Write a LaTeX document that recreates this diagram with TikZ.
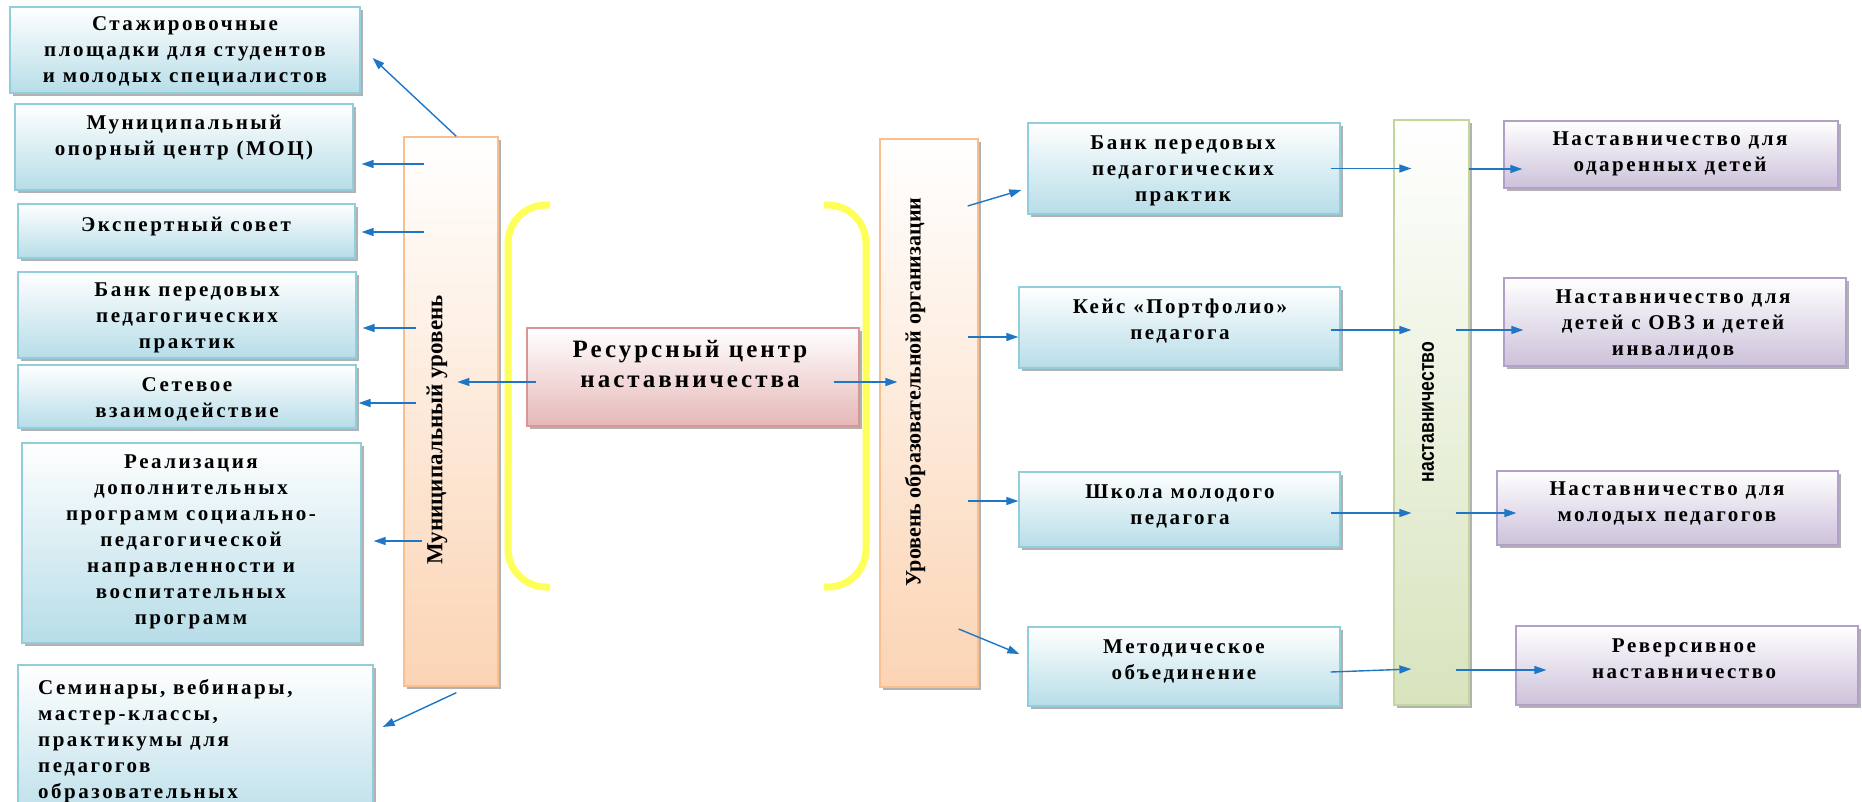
\documentclass[tikz,border=0pt]{standalone}
\usepackage{fontspec}
\setmainfont{Liberation Serif}
\newfontfamily\spcfont{Liberation Serif}[LetterSpace=12]
\newfontfamily\colsans{Liberation Sans}
\usetikzlibrary{shadows,arrows.meta,calc}
\definecolor{bluefill}{RGB}{183,221,232}
\definecolor{blueline}{RGB}{146,205,220}
\definecolor{orfill}{RGB}{251,212,180}
\definecolor{orline}{RGB}{250,191,143}
\definecolor{pkfill}{RGB}{229,184,183}
\definecolor{pkline}{RGB}{217,150,148}
\definecolor{grfill}{RGB}{215,228,189}
\definecolor{grline}{RGB}{195,214,155}
\definecolor{pufill}{RGB}{204,193,218}
\definecolor{puline}{RGB}{178,161,199}
\definecolor{arrowblue}{RGB}{30,118,196}
\definecolor{brackyellow}{RGB}{255,255,90}
\tikzset{
  bx/.style={rectangle, inner sep=0pt, line width=1.3pt, shading=axis,
    drop shadow={shadow xshift=3pt,shadow yshift=-3pt,fill=black,opacity=0.3}},
  bluebox/.style={bx, draw=blueline, top color=white, bottom color=bluefill},
  orbox/.style={bx, draw=orline, top color=white, bottom color=orfill},
  pkbox/.style={bx, draw=pkline, top color=white, bottom color=pkfill},
  grbox/.style={bx, draw=grline, top color=white, bottom color=grfill},
  pubox/.style={bx, draw=puline, top color=white, bottom color=pufill},
  txt/.style={inner sep=0pt, align=center, font=\spcfont\bfseries\fontsize{21}{26}\selectfont},
  bigtxt/.style={inner sep=0pt, align=center, font=\spcfont\bfseries\fontsize{25}{30}\selectfont},
  vtxt/.style={inner sep=0pt, rotate=90, font=\bfseries\fontsize{23}{26}\selectfont},
  arr/.style={draw=arrowblue, line width=1.4pt, -{Triangle[length=12pt,width=8pt]}},
  brack/.style={draw=brackyellow, line width=7pt, rounded corners=38pt}
}
\begin{document}
\begin{tikzpicture}[x=1pt,y=-1pt]
\useasboundingbox (0,0) rectangle (1862,801);
\fill[white] (0,0) rectangle (1862,801);
\clip (0,0) rectangle (1862,801);

% brackets
\draw[brack] (550,205) -- (508,205) -- (508,587) -- (550,587);
\draw[brack] (824,205) -- (866,205) -- (866,587) -- (824,587);

% left boxes
\node[bluebox, minimum width=350pt, minimum height=86pt] (l1) at (185,50) {};
\node[bluebox, minimum width=338pt, minimum height=86pt] (l2) at (184,147) {};
\node[bluebox, minimum width=337pt, minimum height=54pt] (l3) at (186.5,231) {};
\node[bluebox, minimum width=338pt, minimum height=86pt] (l4) at (187,315) {};
\node[bluebox, minimum width=338pt, minimum height=63pt] (l5) at (187,396.5) {};
\node[bluebox, minimum width=339pt, minimum height=200pt] (l6) at (191.5,543) {};
\node[bluebox, minimum width=355pt, minimum height=165pt] (l7) at (195.5,747.5) {};

\node[txt] (l1t) at (185,51) {Стажировочные\\площадки для студентов\\и молодых специалистов};
\node[txt] (l2t) at (184,138) {Муниципальный\\опорный центр (МОЦ)};
\node[txt] (l3t) at (186,226) {Экспертный совет};
\node[txt] (l4t) at (187,318) {Банк передовых\\педагогических\\практик};
\node[txt] (l5t) at (187,399) {Сетевое\\взаимодействие};
\node[txt] (l6t) at (191,542) {Реализация\\дополнительных\\программ социально-\\педагогической\\направленности и\\воспитательных\\программ};
\node[txt, align=left, anchor=north west] (l7t) at (38,679) {Семинары, вебинары,\\мастер-классы,\\практикумы для\\педагогов\\образовательных};

% columns
\node[orbox, minimum width=94pt, minimum height=549pt] (lcol) at (451,411.5) {};
\node[vtxt] (lcolt) at (437,430) {Муниципальный уровень};
\node[orbox, minimum width=98pt, minimum height=548pt] (rcol) at (929,413) {};
\node[vtxt, font=\bfseries\fontsize{22}{26}\selectfont] (rcolt) at (915,392) {Уровень образовательной организации};
\node[grbox, minimum width=75pt, minimum height=585pt] (gcol) at (1431.5,412.5) {};
\node[inner sep=0pt, rotate=90, font=\colsans\bfseries\fontsize{22}{24}\selectfont] (gcolt) at (1428,412) {\scalebox{0.8}[1]{наставничество}};

% center
\node[pkbox, minimum width=332pt, minimum height=98pt] (c) at (693,377) {};
\node[bigtxt] (ct) at (690,364) {Ресурсный центр\\наставничества};

% right boxes
\node[bluebox, minimum width=312pt, minimum height=91pt] (r1) at (1184,168.5) {};
\node[bluebox, minimum width=321pt, minimum height=81pt] (r2) at (1179.5,327.5) {};
\node[bluebox, minimum width=321pt, minimum height=75pt] (r3) at (1179.5,509.5) {};
\node[bluebox, minimum width=312pt, minimum height=79pt] (r4) at (1184,666.5) {};
\node[txt] (r1t) at (1183,171) {Банк передовых\\педагогических\\практик};
\node[txt] (r2t) at (1180,321) {Кейс «Портфолио»\\педагога};
\node[txt] (r3t) at (1180,506) {Школа молодого\\педагога};
\node[txt] (r4t) at (1184,661) {Методическое\\объединение};

% purple boxes
\node[pubox, minimum width=334pt, minimum height=67pt] (p1) at (1671,154.5) {};
\node[pubox, minimum width=342pt, minimum height=88pt] (p2) at (1675,322) {};
\node[pubox, minimum width=341pt, minimum height=74pt] (p3) at (1667.5,508) {};
\node[pubox, minimum width=342pt, minimum height=79pt] (p4) at (1687,665.5) {};
\node[txt] (p1t) at (1670,154) {Наставничество для\\одаренных детей};
\node[txt] (p2t) at (1673,324) {Наставничество для\\детей с ОВЗ и детей\\инвалидов};
\node[txt] (p3t) at (1667,503) {Наставничество для\\молодых педагогов};
\node[txt] (p4t) at (1684,659) {Реверсивное\\наставничество};

% arrow end coordinates
\coordinate (t1) at ([shift={(12pt,-8pt)}]l1.east);
\coordinate (t2) at ([shift={(8pt,-17pt)}]l2.east);
\coordinate (t3) at ([shift={(6pt,-1pt)}]l3.east);
\coordinate (t4) at ([shift={(6pt,-13pt)}]l4.east);
\coordinate (t5) at ([shift={(2pt,-6.5pt)}]l5.east);
\coordinate (t6) at ([shift={(12pt,2pt)}]l6.east);
\coordinate (t7) at ([shift={(9pt,20.5pt)}]l7.east);

\draw[arr] ([xshift=53pt]lcol.north west) -- (t1);
\draw[arr] ([xshift=21pt]lcol.west |- t2) -- (t2);
\draw[arr] ([xshift=21pt]lcol.west |- t3) -- (t3);
\draw[arr] ([xshift=13pt]lcol.west |- t4) -- (t4);
\draw[arr] ([xshift=13pt]lcol.west |- t5) -- (t5);
\draw[arr] ([xshift=19pt]lcol.west |- t6) -- (t6);
\draw[arr] ([shift={(53pt,-6pt)}]lcol.south west) -- (t7);

\coordinate (cs1) at ([shift={(10pt,-5pt)}]c.west);
\coordinate (cs2) at ([shift={(-26pt,-5pt)}]c.east);
\draw[arr] (cs1) -- ([xshift=54pt]lcol.west |- cs1);
\draw[arr] (cs2) -- ([xshift=18pt]rcol.west |- cs2);

\coordinate (u1) at ([shift={(-6pt,-21.5pt)}]r1.west);
\coordinate (u2) at ([yshift=-9.5pt]r2.west);
\coordinate (u3) at ([yshift=8.5pt]r3.west);
\coordinate (u4) at ([shift={(-8pt,12.5pt)}]r4.west);
\draw[arr] ([shift={(-11pt,207pt)}]rcol.east) -- (u1);
\draw[arr] ([xshift=-11pt]rcol.east |- u2) -- (u2);
\draw[arr] ([xshift=-11pt]rcol.east |- u3) -- (u3);
\draw[arr] ([shift={(-20pt,-216pt)}]rcol.east) -- (u4);

\coordinate (g1) at ([xshift=-10pt]r1.east);
\coordinate (g2) at ([shift={(-10pt,-2.5pt)}]r2.east);
\coordinate (g3) at ([shift={(-10pt,-3.5pt)}]r3.east);
\coordinate (g4) at ([shift={(-10pt,-5.5pt)}]r4.east);
\draw[arr] (g1) -- ([xshift=18pt]gcol.west |- g1);
\draw[arr] (g2) -- ([xshift=18pt]gcol.west |- g2);
\draw[arr] (g3) -- ([xshift=18pt]gcol.west |- g3);
\draw[arr] (g4) -- ([shift={(18pt,3pt)}]gcol.west |- g4);

\coordinate (v1) at ([shift={(19pt,-14.5pt)}]p1.west);
\coordinate (v2) at ([shift={(20pt,-8pt)}]p2.west);
\coordinate (v3) at ([shift={(20pt,-5pt)}]p3.west);
\coordinate (v4) at ([shift={(31pt,-4.5pt)}]p4.west);
\draw[arr] ([xshift=-1pt]gcol.east |- v1) -- (v1);
\draw[arr] ([xshift=-14pt]gcol.east |- v2) -- (v2);
\draw[arr] ([xshift=-14pt]gcol.east |- v3) -- (v3);
\draw[arr] ([xshift=-14pt]gcol.east |- v4) -- (v4);
\end{tikzpicture}
\end{document}
